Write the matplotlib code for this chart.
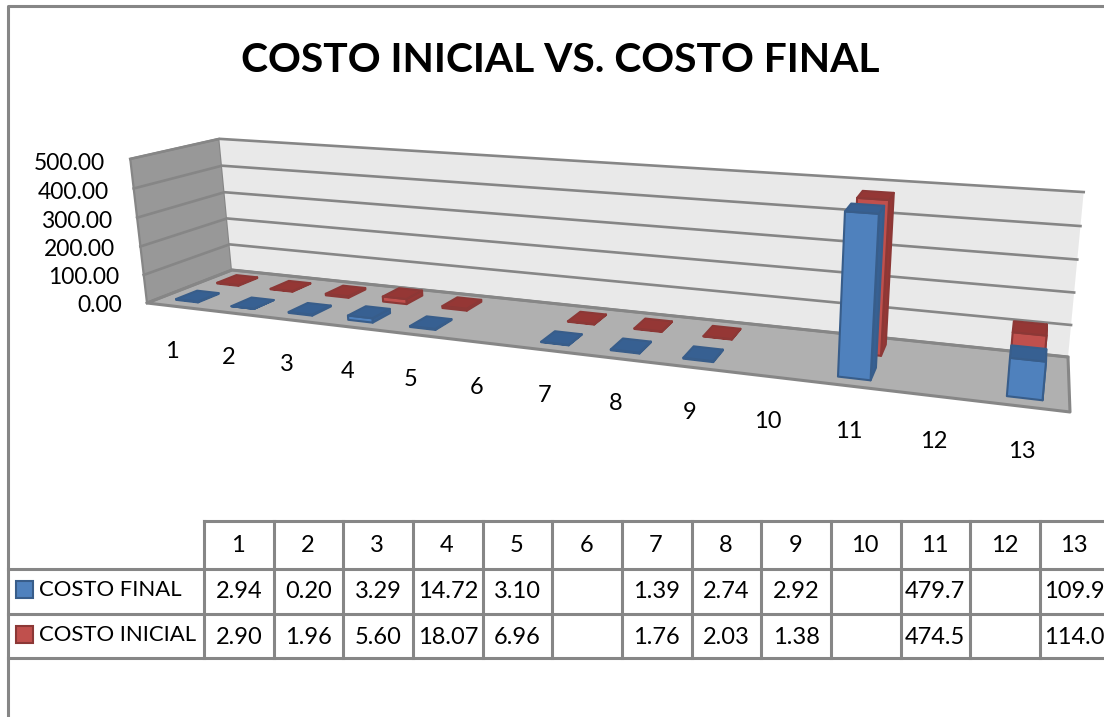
import matplotlib
matplotlib.use('Agg')
import matplotlib.pyplot as plt
import numpy as np
from matplotlib.patches import Polygon, Rectangle

plt.rcParams['font.family'] = ['Lato', 'DejaVu Sans']

categories = ['1', '2', '3', '4', '5', '6', '7', '8', '9', '10', '11', '12', '13']
costo_final = [2.94, 0.20, 3.29, 14.72, 3.10, None, 1.39, 2.74, 2.92, None, 479.7, None, 109.9]
costo_inicial = [2.90, 1.96, 5.60, 18.07, 6.96, None, 1.76, 2.03, 1.38, None, 474.5, None, 114.0]
y_ticks = [0, 100, 200, 300, 400, 500]

GRAY = '#868686'
Y_MAX = 500
N = len(categories)


def fit_floor(src, dst):
    # 4 point homography, (u, v) -> pixel
    a, b = [], []
    for (u, v), (x, y) in zip(src, dst):
        a.append([u, v, 1, 0, 0, 0, -u * x, -v * x])
        a.append([0, 0, 0, u, v, 1, -u * y, -v * y])
        b += [x, y]
    return np.append(np.linalg.solve(np.array(a, float), np.array(b, float)), 1).reshape(3, 3)


def fit_height(H, src, dst):
    # third column of the projection, from points above the floor
    a, b = [], []
    for (u, v, w), (x, y) in zip(src, dst):
        n = H @ [u, v, 1]
        a.append([w, 0, -x * w])
        a.append([0, w, -y * w])
        b += [x * n[2] - n[0], y * n[2] - n[1]]
    return np.linalg.lstsq(np.array(a, float), np.array(b, float), rcond=None)[0]


H = fit_floor([(0, 0), (N, 0), (0, 1), (N, 1)], [(147, 303), (1070, 412), (232, 270), (1068, 357)])
W = fit_height(H, [(0, 0, 1), (0, 1, 1), (N, 1, 1), (10.3, 0.14, 0.96)],
               [(130, 158), (220, 140), (1085, 191), (843, 212)])


def project(u, v, value=0):
    w = value / Y_MAX
    p = H @ [u, v, 1] + w * W
    return p[:2] / p[2]


def quad(ax, pts, face, edge=None, lw=0, z=2):
    ax.add_patch(Polygon(pts, closed=True, facecolor=face, edgecolor=edge or face,
                         linewidth=lw, joinstyle='round', zorder=z))


def bar(ax, i, value, v0, v1, front, dark, edge):
    u0, u1 = i + 0.30, i + 0.70
    quad(ax, [project(u1, v0), project(u1, v1), project(u1, v1, value), project(u1, v0, value)],
         dark, edge, 1.5)
    quad(ax, [project(u0, v0), project(u1, v0), project(u1, v0, value), project(u0, v0, value)],
         front, edge, 1.5)
    quad(ax, [project(u0, v0, value), project(u1, v0, value), project(u1, v1, value), project(u0, v1, value)],
         dark, edge, 1.5)


fig = plt.figure(figsize=(11.04, 7.17), dpi=100)
ax = fig.add_axes([0, 0, 1, 1])
ax.set_xlim(0, 1104)
ax.set_ylim(717, 0)
ax.axis('off')

# chart frame
ax.plot([7.5, 7.5, 1104], [717, 6, 6], color=GRAY, lw=2.2, zorder=1)

ax.text(560, 61, 'COSTO INICIAL VS. COSTO FINAL', fontsize=29.3, fontweight='bold',
        ha='center', va='center', color='black')

# walls and floor
quad(ax, [project(0, 0), project(0, 1), project(0, 1, Y_MAX), project(0, 0, Y_MAX)], '#989898', GRAY, 1.6, 1)
quad(ax, [project(0, 1), project(N, 1), project(N, 1, Y_MAX), project(0, 1, Y_MAX)], '#E9E9E9', 'none', 0, 1)
quad(ax, [project(0, 0), project(N, 0), project(N, 1), project(0, 1)], '#B0B0B0', GRAY, 2.2, 1)

for t in y_ticks:
    pts = np.array([project(0, 0, t), project(0, 1, t), project(N, 1, t)])
    ax.plot(pts[:, 0], pts[:, 1], color=GRAY, lw=1.9, zorder=1.5, solid_joinstyle='miter')
    x, y = project(0, 0, t)
    ax.text(x - 25, y + 2 + 3 * t / Y_MAX, f'{t:.2f}', fontsize=16.5, ha='right', va='center')

# bars, back series first
for i in range(N):
    if costo_inicial[i] is not None:
        bar(ax, i, costo_inicial[i], 0.62, 0.86, '#C0504D', '#953735', '#8C3836')
for i in range(N):
    if costo_final[i] is not None:
        bar(ax, i, costo_final[i], 0.14, 0.38, '#4F81BD', '#376092', '#385D8A')

# category labels under the floor
for i, c in enumerate(categories):
    x, y = project(i + 0.5, 0)
    ax.text(x - 2, y + 45, c, fontsize=17, ha='center', va='center')

# data table
col_x = [204 + 69.67 * i for i in range(N + 1)]
row_y = [521, 569, 614, 658]
for x in col_x:
    ax.plot([x, x], [row_y[0], row_y[-1]], color=GRAY, lw=2.2, zorder=3)
ax.plot([204, 1104], [row_y[0], row_y[0]], color=GRAY, lw=2.2, zorder=3)
for y in row_y[1:]:
    ax.plot([8, 1104], [y, y], color=GRAY, lw=2.2, zorder=3)

for i, c in enumerate(categories):
    ax.text((col_x[i] + col_x[i + 1]) / 2 - 1, 545, c, fontsize=17, ha='center', va='center')

for series, y, name, face, edge in [(costo_final, 591, 'COSTO FINAL', '#4F81BD', '#385D8A'),
                                    (costo_inicial, 636, 'COSTO INICIAL', '#C0504D', '#8C3836')]:
    ax.add_patch(Rectangle((16, y - 10), 17, 17, facecolor=face, edgecolor=edge, lw=1.5, zorder=3))
    ax.text(39, y - 1, name, fontsize=15.9, ha='left', va='center')
    for i, val in enumerate(series):
        if val is None:
            continue
        s = f'{val:.1f}' if val > 100 else f'{val:.2f}'
        ax.text((col_x[i] + col_x[i + 1]) / 2 if val < 100 else col_x[i] + 4, y + 1, s, fontsize=17,
                ha='center' if val < 100 else 'left', va='center')

fig.savefig('out.png', dpi=100)
